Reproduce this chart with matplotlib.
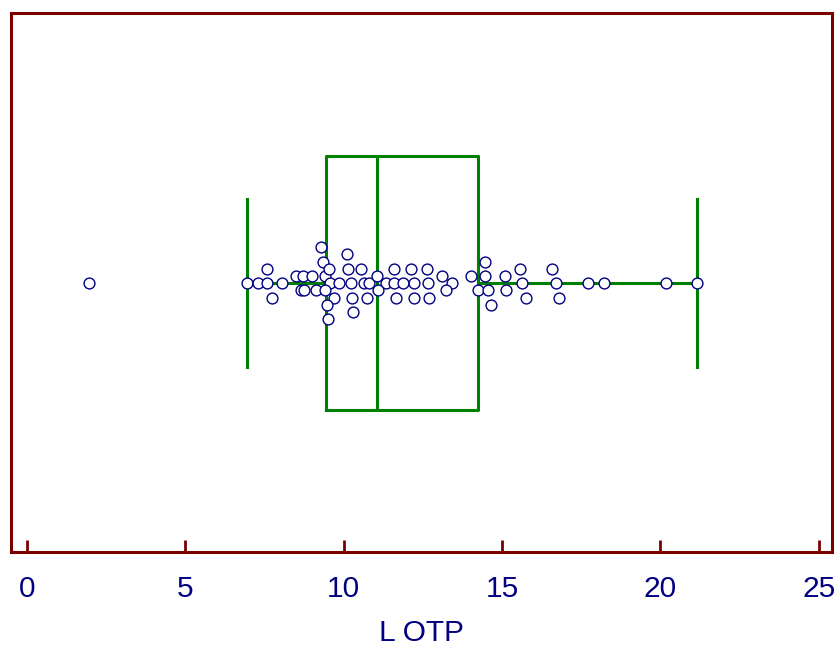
import matplotlib
matplotlib.use("Agg")
from matplotlib import pyplot as plt

plt.rcParams['font.family'] = ['Liberation Sans', 'DejaVu Sans']

# values
l_otp = [1.96, 6.94, 7.29, 7.59, 7.57, 7.75, 8.07, 8.49, 8.73, 8.99,
         8.65, 8.75, 9.13, 9.40, 9.29, 9.36, 9.54, 9.57, 9.85, 9.42,
         9.70, 9.47, 9.52, 10.12, 10.15, 10.55, 10.23, 10.64, 10.80, 11.04,
         11.34, 11.59, 11.88, 12.23, 12.67, 10.26, 10.75, 11.09, 11.65, 12.23,
         12.70, 10.29, 11.59, 12.13, 12.62, 13.12, 13.42, 13.24, 14.02, 14.46,
         14.46, 14.25, 14.57, 14.65, 15.09, 15.13, 15.58, 15.62, 15.76, 16.59,
         16.69, 16.80, 17.72, 18.23, 20.18, 21.17]
# stacking row of each point (dot plot jitter)
rows = [0, 0, 0, 0, 2, -2, 0, 1, 1, 1,
        -1, -1, -1, 1, 5, 3, 2, 0, 0, -1,
        -2, -3, -5, 4, 2, 2, 0, 0, 0, 1,
        0, 0, 0, 0, 0, -2, -2, -1, -2, -2,
        -2, -4, 2, 2, 2, 1, 0, -1, 1, 3,
        1, -1, -1, -3, 1, -1, 2, 0, -2, 2,
        0, -2, 0, 0, 0, 0]

box_stats = [{'med': 11.05, 'q1': 9.44, 'q3': 14.24,
              'whislo': 6.94, 'whishi': 21.15, 'fliers': []}]
xticks = [0, 5, 10, 15, 20, 25]

row_h = 7.2
dark_red = '#7a0000'
navy = '#000080'
green = '#008000'

fig = plt.figure(figsize=(8.37, 6.48), dpi=100)
ax = fig.add_axes([0.01314, 0.14738, 0.98029, 0.83179])

line = dict(color=green, linewidth=2.2)
ax.bxp(box_stats, positions=[0], widths=254, capwidths=[168],
       orientation='horizontal', showfliers=False,
       boxprops=line, whiskerprops=line, capprops=line, medianprops=line,
       zorder=2)

ax.plot(l_otp, [r * row_h for r in rows], 'o', ms=7.8, mfc='white',
        mec=navy, mew=1.0, zorder=3, clip_on=False)

ax.set_xlim(-0.5, 25.4)
ax.set_ylim(-269.2, 269.8)

for s in ax.spines.values():
    s.set_color(dark_red)
    s.set_linewidth(2.2)

ax.set_yticks([])
ax.set_xticks(xticks)
ax.set_xticklabels([str(t) for t in xticks])
ax.tick_params(axis='x', direction='in', length=8.8, width=2, color=dark_red,
               labelcolor=navy, labelsize=21.5, pad=16)
ax.set_xlabel('L OTP', fontsize=21.5, color=navy, labelpad=12)

fig.savefig('out.png', dpi=100)
